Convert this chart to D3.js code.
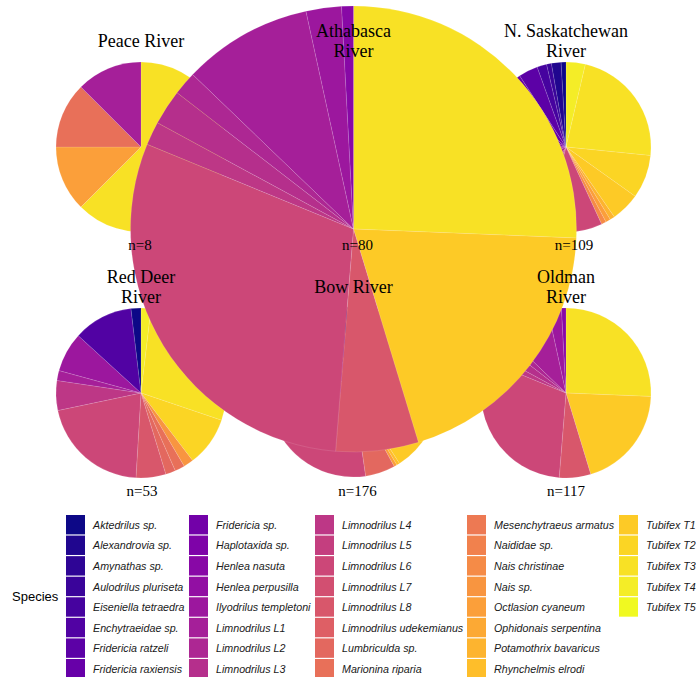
<!DOCTYPE html>
<html><head><meta charset="utf-8">
<script src="https://cdn.jsdelivr.net/npm/d3@7/dist/d3.min.js"></script>
<style>body{margin:0;background:#fff}svg{display:block}</style>
</head><body>
<script>
// ---------- data ----------
const species = [
  "Aktedrilus sp.","Alexandrovia sp.","Amynathas sp.","Aulodrilus pluriseta","Eiseniella tetraedra",
  "Enchytraeidae sp.","Fridericia ratzeli","Fridericia raxiensis","Fridericia sp.","Haplotaxida sp.",
  "Henlea nasuta","Henlea perpusilla","Ilyodrilus templetoni","Limnodrilus L1","Limnodrilus L2",
  "Limnodrilus L3","Limnodrilus L4","Limnodrilus L5","Limnodrilus L6","Limnodrilus L7",
  "Limnodrilus L8","Limnodrilus udekemianus","Lumbriculda sp.","Marionina riparia","Mesenchytraeus armatus",
  "Naididae sp.","Nais christinae","Nais sp.","Octlasion cyaneum","Ophidonais serpentina",
  "Potamothrix bavaricus","Rhynchelmis elrodi","Tubifex T1","Tubifex T2","Tubifex T3","Tubifex T4","Tubifex T5"
];
const rivers = ["Peace River","Athabasca River","N. Saskatchewan River","Red Deer River","Bow River","Oldman River"];
const titleLines = [["Peace River"],["Athabasca","River"],["N. Saskatchewan","River"],["Red Deer","River"],["Bow River"],["Oldman","River"]];
const sampleSizes = [8, 80, 109, 53, 176, 117];

const peaceCounts = [["Tubifex T3",5],["Octlasion cyaneum",1],["Marionina riparia",1],["Limnodrilus L1",1]];
const athabascaCounts = [["Tubifex T3",30],["Tubifex T1",23],["Limnodrilus L8",7],["Limnodrilus L6",35],
  ["Limnodrilus L4",2],["Limnodrilus L3",3],["Limnodrilus L2",2],["Limnodrilus L1",11],
  ["Ilyodrilus templetoni",3],["Henlea nasuta",1]];
const nSaskCounts = [["Tubifex T4",4],["Tubifex T3",25],["Tubifex T2",9],["Tubifex T1",6],
  ["Potamothrix bavaricus",1],["Octlasion cyaneum",1],["Nais christinae",1],["Limnodrilus L6",12],
  ["Limnodrilus L5",3],["Limnodrilus L4",3],["Limnodrilus L1",10],["Ilyodrilus templetoni",6],
  ["Henlea perpusilla",4],["Haplotaxida sp.",5],["Fridericia sp.",4],["Fridericia raxiensis",5],
  ["Fridericia ratzeli",4],["Eiseniella tetraedra",2],["Aulodrilus pluriseta",1],["Alexandrovia sp.",2],["Aktedrilus sp.",1]];
const redDeerCounts = [["Tubifex T4",1],["Tubifex T3",15],["Tubifex T2",5],["Nais sp.",1],["Marionina riparia",1],
  ["Lumbriculda sp.",1],["Limnodrilus L8",3],["Limnodrilus L6",11],["Limnodrilus L4",3],["Limnodrilus L1",1],
  ["Ilyodrilus templetoni",4],["Enchytraeidae sp.",6],["Aktedrilus sp.",1]];
const bowCounts = [["Tubifex T3",44],["Tubifex T1",28],["Rhynchelmis elrodi",1],["Octlasion cyaneum",1],
  ["Lumbriculda sp.",10],["Limnodrilus L6",40],["Limnodrilus L4",6],["Limnodrilus L1",22],
  ["Ilyodrilus templetoni",10],["Henlea nasuta",4],["Enchytraeidae sp.",6],["Aktedrilus sp.",4]];
const oldmanCounts = [["Tubifex T3",30],["Tubifex T1",23],["Limnodrilus L8",7],["Limnodrilus L6",35],
  ["Limnodrilus L4",2],["Limnodrilus L3",3],["Limnodrilus L2",2],["Limnodrilus L1",11],
  ["Ilyodrilus templetoni",3],["Henlea nasuta",1]];
const riverCounts = [peaceCounts, athabascaCounts, nSaskCounts, redDeerCounts, bowCounts, oldmanCounts];

// ---------- layout ----------
const W = 696, H = 677;
const colX = d3.scalePoint().domain([0,1,2]).range([141, 566]);
const rowY = d3.scalePoint().domain([0,1]).range([147, 393]);
const pieR = [85, 223, 85, 85, 85, 85];
const pieDy = [0, 82, 0, 0, -1, 0];
const labelDx = [-1, 4, 8, 1, 4, 0];
const drawOrder = [0, 2, 3, 4, 5, 1];

const color = d3.scaleOrdinal(species, species.map((d, i) => d3.interpolatePlasma(i / (species.length - 1))));

const svg = d3.select("body").append("svg").attr("width", W).attr("height", H);

const pie = d3.pie().sort(null).value(d => d[1]);

drawOrder.forEach(k => {
  const cx = colX(k % 3), cy = rowY(Math.floor(k / 3)) + pieDy[k];
  const data = riverCounts[k].slice().sort((a, b) => species.indexOf(b[0]) - species.indexOf(a[0]));
  const arc = d3.arc().innerRadius(0).outerRadius(pieR[k]);
  svg.append("g").attr("transform", `translate(${cx},${cy})`)
    .selectAll("path").data(pie(data)).join("path")
    .attr("d", arc)
    .attr("fill", d => color(d.data[0]))
    .attr("stroke", "#fff").attr("stroke-width", 0.3).attr("stroke-opacity", 0.4);
});

// titles and n labels
rivers.forEach((r, k) => {
  const cx = colX(k % 3), rowC = rowY(Math.floor(k / 3));
  const lines = titleLines[k];
  const base = rowC - 100.5;
  const t = svg.append("text").attr("text-anchor", "middle")
    .attr("font-family", "'Liberation Serif','Times New Roman',serif").attr("font-size", 18).attr("fill", "#000");
  if (lines.length === 1) {
    t.append("tspan").attr("x", cx).attr("y", base).text(lines[0]);
  } else {
    lines.forEach((l, j) => t.append("tspan").attr("x", cx).attr("y", base - 10 + j * 20).text(l));
  }
  svg.append("text").attr("text-anchor", "middle")
    .attr("x", cx + labelDx[k]).attr("y", rowC + 103)
    .attr("font-family", "'Liberation Serif','Times New Roman',serif").attr("font-size", 15).attr("fill", "#000")
    .text("n=" + sampleSizes[k]);
});

// legend
const legKeyX = [66, 189, 315, 467, 619];
const legTop = 515, legStep = 20.57, perCol = 8;
const leg = svg.append("g");
leg.append("text").attr("x", 12).attr("y", legTop + perCol * legStep / 2 - 0.5)
  .attr("dominant-baseline", "central")
  .attr("font-family", "'Liberation Sans',Arial,sans-serif").attr("font-size", 13).attr("fill", "#000")
  .text("Species");
species.forEach((s, i) => {
  const c = Math.floor(i / perCol), r = i % perCol;
  const x = legKeyX[c], y = legTop + r * legStep;
  leg.append("rect").attr("x", x).attr("y", y).attr("width", 19).attr("height", 19.4).attr("fill", color(s));
  leg.append("text").attr("x", x + 27).attr("y", y + 9.9)
    .attr("dominant-baseline", "central")
    .attr("font-family", "'Liberation Sans',Arial,sans-serif").attr("font-style", "italic")
    .attr("font-size", 10.7).attr("fill", "#1a1a1a").text(s);
});
</script>
</body></html>
